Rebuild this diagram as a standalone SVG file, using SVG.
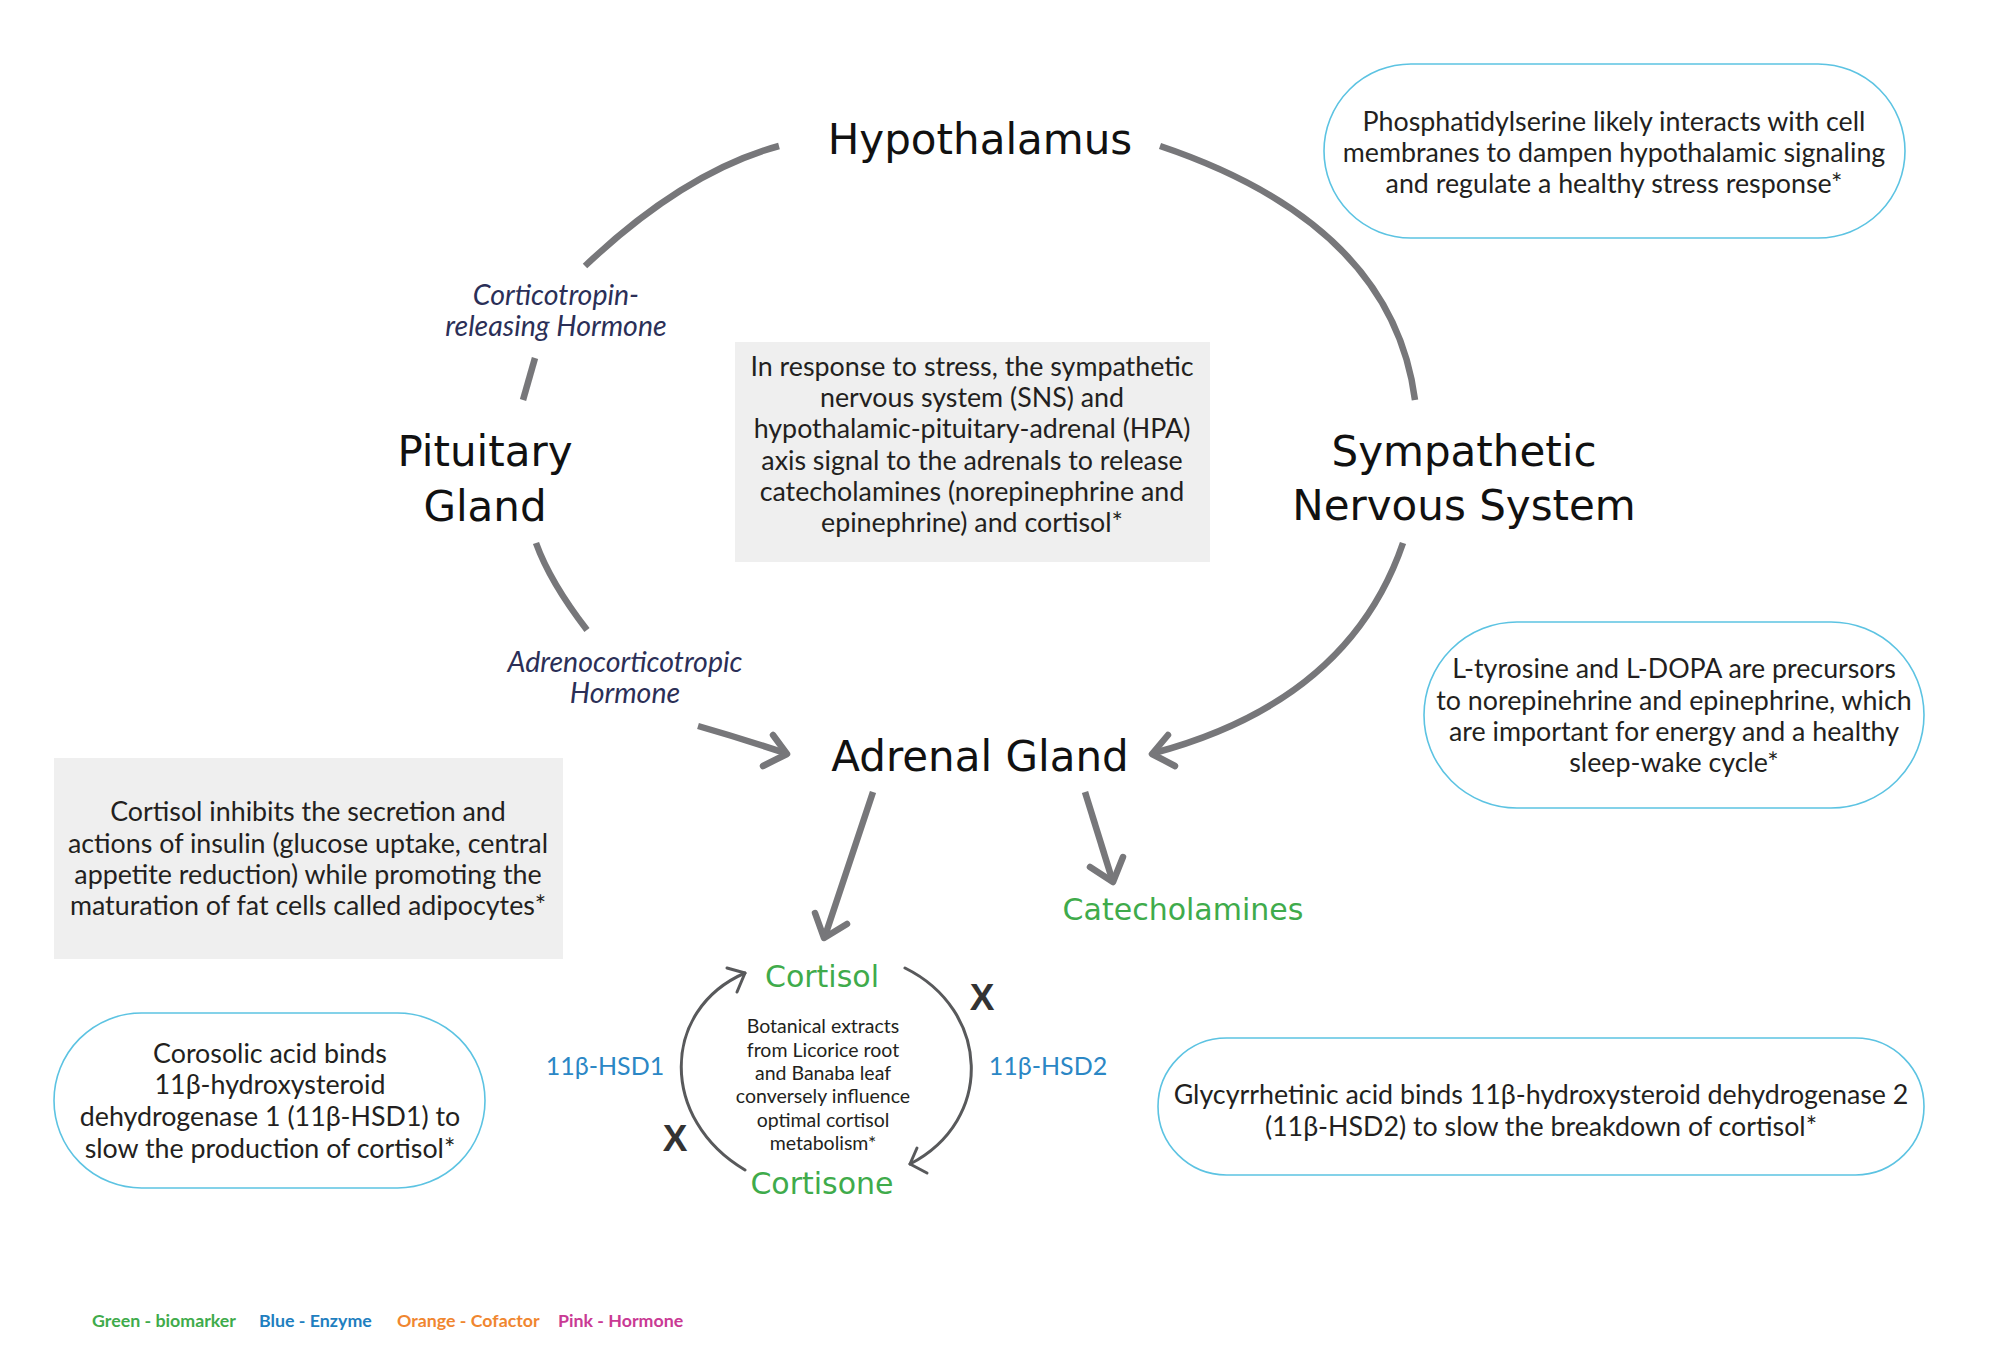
<svg xmlns="http://www.w3.org/2000/svg" width="2000" height="1364" viewBox="0 0 2000 1364">
<style>
.bg{fill:#ffffff}
.title{font-family:"DejaVu Sans",sans-serif;font-size:42px;fill:#111111;text-anchor:middle}
.bio{font-family:"DejaVu Sans",sans-serif;font-size:30px;fill:#3fab4b;text-anchor:middle}
.body{font-family:Lato,"Noto Sans",sans-serif;font-size:26.8px;fill:#231f20;text-anchor:middle}
.small{font-family:Lato,"Noto Sans",sans-serif;font-size:19.5px;fill:#231f20;text-anchor:middle}
.hormone{font-family:Lato,"Noto Sans",sans-serif;font-style:italic;font-size:28.5px;fill:#2b2f57;text-anchor:middle}
.enz{font-family:Lato,"Noto Sans",sans-serif;font-size:25px;fill:#2b87c5;text-anchor:middle}
.xmark{font-family:"Liberation Sans",Arial,sans-serif;font-weight:bold;font-size:37px;fill:#333333;text-anchor:middle}
.pill{fill:#ffffff;stroke:#5cc3e2;stroke-width:1.6}
.gbox{fill:#efefef}
.arc{fill:none;stroke:#77777a;stroke-width:6.5;stroke-linecap:butt}
.head{fill:none;stroke:#77777a;stroke-width:6.5;stroke-linecap:round;stroke-linejoin:round}
.cyc{fill:none;stroke:#58595b;stroke-width:3;stroke-linecap:round;stroke-linejoin:round}
.leg{font-family:Lato,"Noto Sans",sans-serif;font-weight:bold;font-size:17.8px}
</style>
<rect class="bg" x="0" y="0" width="2000" height="1364"/>

<g id="connectors">
  <path class="arc" d="M779,146 Q684,172 585,266"/>
  <path class="arc" d="M535,358 L523,400"/>
  <path class="arc" d="M536,543 Q550,582 587,630"/>
  <path class="arc" d="M698,726 Q740,738 785,753"/>
  <polyline class="head" points="773,735 787,754 763,766"/>
  <path class="arc" d="M1160,146 Q1392,224 1415,400"/>
  <path class="arc" d="M1403,543 Q1349,701 1154,753"/>
  <polyline class="head" points="1168,735 1152,754 1175,766"/>
  <path class="arc" d="M873,792 L825,936"/>
  <polyline class="head" points="815,913 824,938 847,924"/>
  <path class="arc" d="M1085,792 L1112,879"/>
  <polyline class="head" points="1090,867 1113,882 1123,857"/>
  <path class="cyc" d="M745,1170 C660,1120 660,1010 745,973"/>
  <polyline class="cyc" points="727,968 745,973 737,992"/>
  <path class="cyc" d="M905,968 C990,1010 995,1120 910,1164"/>
  <polyline class="cyc" points="917,1148 910,1164 927,1173"/>
</g>

<g id="hypothalamus"><text class="title" x="980" y="154">Hypothalamus</text></g>
<g id="pituitary"><text class="title" x="485" y="466">Pituitary</text><text class="title" x="485" y="521">Gland</text></g>
<g id="sns"><text class="title" x="1464" y="466">Sympathetic</text><text class="title" x="1464" y="520">Nervous System</text></g>
<g id="adrenal"><text class="title" x="980" y="771">Adrenal Gland</text></g>

<g id="crh"><text class="hormone" x="556" y="305">Corticotropin-</text><text class="hormone" x="556" y="336">releasing Hormone</text></g>
<g id="acth"><text class="hormone" x="625" y="672">Adrenocorticotropic</text><text class="hormone" x="625" y="703">Hormone</text></g>

<g id="phosphatidylserine">
  <rect class="pill" x="1324" y="64" width="581" height="174" rx="87"/>
  <text class="body" x="1614" y="131">Phosphatidylserine likely interacts with cell</text>
  <text class="body" x="1614" y="162">membranes to dampen hypothalamic signaling</text>
  <text class="body" x="1614" y="193">and regulate a healthy stress response*</text>
</g>

<g id="stress-box">
  <rect class="gbox" x="735" y="342" width="475" height="220"/>
  <text class="body" x="972" y="376">In response to stress, the sympathetic</text>
  <text class="body" x="972" y="407">nervous system (SNS) and</text>
  <text class="body" x="972" y="438">hypothalamic-pituitary-adrenal (HPA)</text>
  <text class="body" x="972" y="470">axis signal to the adrenals to release</text>
  <text class="body" x="972" y="501">catecholamines (norepinephrine and</text>
  <text class="body" x="972" y="532">epinephrine) and cortisol*</text>
</g>

<g id="ltyrosine">
  <rect class="pill" x="1424" y="622" width="500" height="186" rx="93"/>
  <text class="body" x="1674" y="678">L-tyrosine and L-DOPA are precursors</text>
  <text class="body" x="1674" y="710">to norepinehrine and epinephrine, which</text>
  <text class="body" x="1674" y="741">are important for energy and a healthy</text>
  <text class="body" x="1674" y="772">sleep-wake cycle*</text>
</g>

<g id="insulin-box">
  <rect class="gbox" x="54" y="758" width="509" height="201"/>
  <text class="body" x="308" y="821">Cortisol inhibits the secretion and</text>
  <text class="body" x="308" y="853">actions of insulin (glucose uptake, central</text>
  <text class="body" x="308" y="884">appetite reduction) while promoting the</text>
  <text class="body" x="308" y="915">maturation of fat cells called adipocytes*</text>
</g>

<g id="catecholamines"><text class="bio" x="1183" y="920">Catecholamines</text></g>
<g id="cortisol"><text class="bio" x="822" y="987">Cortisol</text></g>
<g id="cortisone"><text class="bio" x="822" y="1194">Cortisone</text></g>

<g id="botanical">
  <text class="small" x="823" y="1033">Botanical extracts</text>
  <text class="small" x="823" y="1057">from Licorice root</text>
  <text class="small" x="823" y="1080">and Banaba leaf</text>
  <text class="small" x="823" y="1103">conversely influence</text>
  <text class="small" x="823" y="1127">optimal cortisol</text>
  <text class="small" x="823" y="1150">metabolism*</text>
</g>

<g id="hsd1"><text class="enz" x="605" y="1075">11β-HSD1</text></g>
<g id="hsd2"><text class="enz" x="1048" y="1075">11β-HSD2</text></g>
<g id="x-right"><text class="xmark" x="982" y="1010">X</text></g>
<g id="x-left"><text class="xmark" x="675" y="1151">X</text></g>

<g id="corosolic">
  <rect class="pill" x="54" y="1013" width="431" height="175" rx="87.5"/>
  <text class="body" x="270" y="1063">Corosolic acid binds</text>
  <text class="body" x="270" y="1094">11β-hydroxysteroid</text>
  <text class="body" x="270" y="1126">dehydrogenase 1 (11β-HSD1) to</text>
  <text class="body" x="270" y="1158">slow the production of cortisol*</text>
</g>

<g id="glycyrrhetinic">
  <rect class="pill" x="1158" y="1038" width="766" height="137" rx="68.5"/>
  <text class="body" x="1541" y="1104">Glycyrrhetinic acid binds 11β-hydroxysteroid dehydrogenase 2</text>
  <text class="body" x="1541" y="1136">(11β-HSD2) to slow the breakdown of cortisol*</text>
</g>

<g id="legend">
  <text class="leg" x="92" y="1327" fill="#3fab4b">Green - biomarker</text>
  <text class="leg" x="259" y="1327" fill="#1f7fc0">Blue - Enzyme</text>
  <text class="leg" x="397" y="1327" fill="#f0862f">Orange - Cofactor</text>
  <text class="leg" x="558" y="1327" fill="#c93a94">Pink - Hormone</text>
</g>
</svg>
